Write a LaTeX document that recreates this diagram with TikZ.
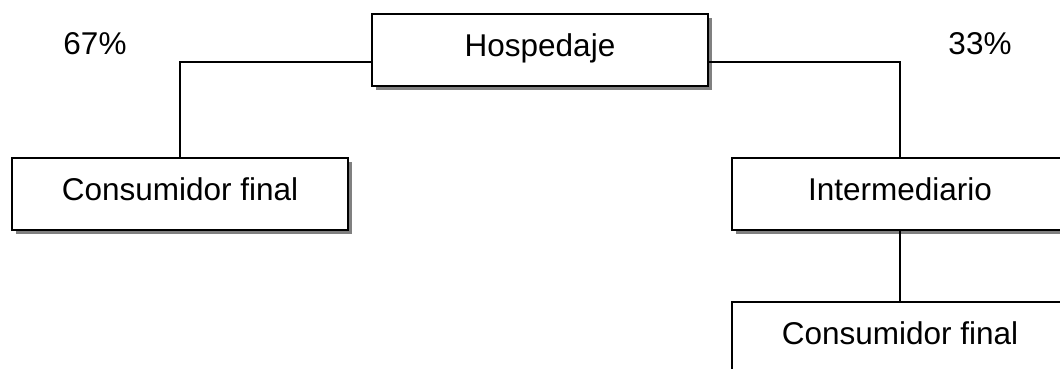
\documentclass[tikz,border=0pt]{standalone}
\usepackage{fontspec}
\setmainfont{Liberation Sans}
\usetikzlibrary{calc,shadows}

\tikzset{
  chanbox/.style={draw,line width=2pt,fill=white,minimum width=336pt,minimum height=72pt,
    inner sep=0pt,text height=22pt,text depth=10pt,
    drop shadow={shadow xshift=4pt,shadow yshift=-4pt,fill=black!50,opacity=1}},
  pct/.style={inner sep=0pt}
}

\begin{document}
\begin{tikzpicture}[x=1pt,y=-1pt,font=\fontsize{31.5}{36}\selectfont]
\useasboundingbox (0,0) rectangle (1060,368);
\clip (0,0) rectangle (1060,368);

\node[chanbox] (hosp) at (540,50) {Hospedaje};
\node[chanbox] (cfinal) at (180,194) {Consumidor final};
\node[chanbox] (inter) at (900,194) {Intermediario};
\node[chanbox] (cfinalb) at (900,338) {Consumidor final};

\coordinate (hl) at ($(hosp.west)+(0,12)$);
\coordinate (hr) at ($(hosp.east)+(0,12)$);

\draw[line width=2pt] (hl) -| (cfinal.north);
\draw[line width=2pt] (hr) -| (inter.north);
\draw[line width=2pt] (inter.south) -- (cfinalb.north);

\node[pct] (pleft) at (95,44) {67\%};
\node[pct] (pright) at (980,44) {33\%};

\end{tikzpicture}
\end{document}
